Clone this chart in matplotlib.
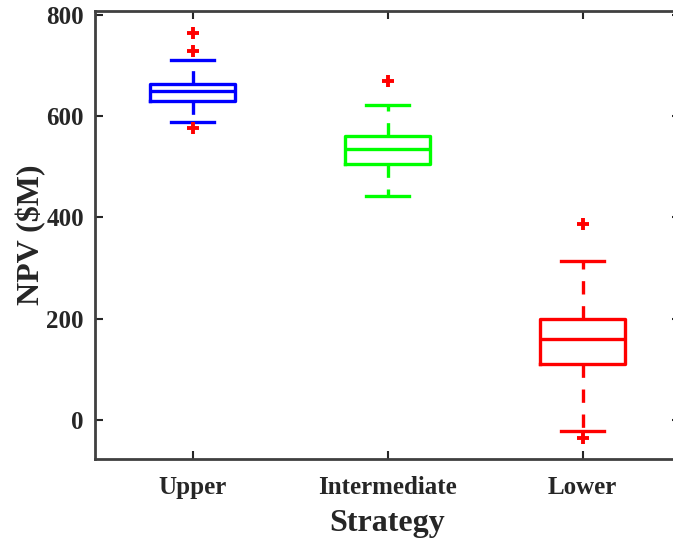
import matplotlib
matplotlib.use('Agg')
import matplotlib.pyplot as plt

plt.rcParams['font.family'] = 'Liberation Serif'
plt.rcParams['font.weight'] = 'bold'

strategies = ['Upper', 'Intermediate', 'Lower']
colors = ['#0000ff', '#00ff00', '#ff0000']

# box stats
q1 = [631, 506, 110]
med = [650, 536, 159]
q3 = [663, 561, 199]
whislo = [588, 443, -22]
whishi = [712, 622, 314]
fliers = [[765, 729, 576], [670], [388, -36]]

stats = []
for i in range(len(strategies)):
    stats.append({'label': strategies[i], 'q1': q1[i], 'med': med[i], 'q3': q3[i],
                  'whislo': whislo[i], 'whishi': whishi[i], 'fliers': fliers[i]})

fig = plt.figure(figsize=(6.73, 5.39), dpi=100)
ax = fig.add_axes([0.1412, 0.1479, 0.8692, 0.8317])

bp = ax.bxp(stats, positions=[1, 2, 3], widths=0.44, showfliers=True,
            patch_artist=False, manage_ticks=False)

lw = 2.4
for i, c in enumerate(colors):
    bp['boxes'][i].set(color=c, linewidth=lw)
    bp['medians'][i].set(color=c, linewidth=lw)
    for k in (2 * i, 2 * i + 1):
        bp['whiskers'][k].set(color=c, linewidth=lw, linestyle=(0, (4, 3.5)))
        bp['caps'][k].set(color=c, linewidth=lw)
        bp['caps'][k].set_xdata([i + 1 - 0.11, i + 1 + 0.11])
    bp['fliers'][i].set(marker='+', markeredgecolor='#ff0000', markersize=8,
                        markeredgewidth=2.8, linestyle='none')

ax.set_xlim(0.5, 3.5)
ax.set_ylim(-78, 808)
ax.set_xticks([1, 2, 3])
ax.set_xticklabels(strategies)
ax.set_yticks([0, 200, 400, 600, 800])

ax.tick_params(direction='in', length=6, width=1.5, color='#262626',
               top=True, right=True, labelsize=18, labelcolor='#262626')
ax.tick_params(axis='x', pad=12)
ax.tick_params(axis='y', pad=8)
for s in ax.spines.values():
    s.set_linewidth(2)
    s.set_color('#404040')

ax.set_xlabel('Strategy', fontsize=23, fontweight='bold', color='#262626', labelpad=7)
ax.set_ylabel('NPV (\\$M)', fontsize=23, fontweight='bold', color='#262626', labelpad=0)

fig.savefig('out.png', dpi=100)
